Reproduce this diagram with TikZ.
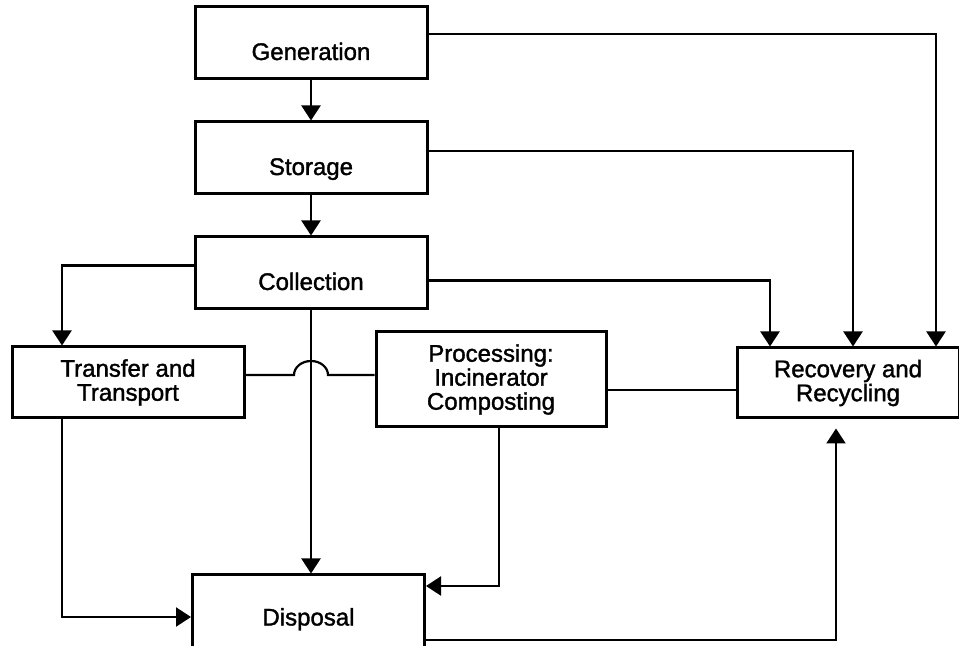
\documentclass[tikz,border=0pt]{standalone}
\usepackage{fontspec}
\setmainfont[FakeBold=1.5]{Liberation Sans}
\usetikzlibrary{positioning, calc, arrows.meta}

\begin{document}
\begin{tikzpicture}[
    , x = 0.5pt
    , y = -0.5pt
    , line width = 1.1pt
    , font = {\fontsize{12}{12}\selectfont}
    , n/.style = {
      , draw
      , line width = 1.5pt
      , minimum width = 116pt
      , minimum height = 36pt
      , inner sep = 0pt
      , align = center
    }
    , low/.style = {text height = 17pt, text depth = 0pt}
    , arr/.style = {-{Triangle[length = 7.5pt, width = 9.5pt]}}
    , node distance = 20pt
  ]
    \useasboundingbox (0, 0) rectangle (959, 646);
    \node (gen) [n, low] at (311, 43) {Generation};
    \node (sto) [n, low, below = of gen] {Storage};
    \node (col) [n, low, below = of sto] {Collection};
    \node (tra) [n, minimum height = 35.5pt] at (128, 382.5) {Transfer and\\Transport};
    \node (pro) [n, minimum width = 115pt, minimum height = 47.5pt] at (491, 379.5) {Processing:\\Incinerator\\Composting};
    \node (rec) [n, minimum width = 111pt, minimum height = 35pt] at (848, 383) {Recovery and\\Recycling};
    \node (dis) [n, minimum height = 37.5pt, text height = 13pt, text depth = 0pt] at (308.5, 612.5) {Disposal};
    \draw [arr] (gen) -- (sto);
    \draw [arr] (sto) -- (col);
    \draw [arr] ([yshift = 4.5pt] gen.east) -| ([xshift = 44pt] rec.north);
    \draw [arr] ([yshift = 3.5pt] sto.east) -| ([xshift = 2.5pt] rec.north);
    \draw [arr] ([yshift = -3.75pt] col.east) -| ([xshift = -39pt] rec.north);
    \draw [arr] ([yshift = 3.75pt] col.west) -| ([xshift = -33pt] tra.north);
    \draw [arr] (col.south) -- (col.south |- dis.north);
    % hop over the collection line
    \coordinate (hop) at ($(col.south |- tra.east) + (0, 3.75pt)$);
    \draw (hop -| tra.east) -- ([xshift = -8.5pt] hop)
      arc [start angle = 180, end angle = 0, x radius = 8.5pt, y radius = 7pt]
      -- (hop -| pro.west);
    \draw ([yshift = -5.25pt] pro.east) -- ($(pro.east -| rec.west) + (0, -5.25pt)$);
    \draw [arr] ([xshift = 4pt] pro.south) |- ([yshift = 13.25pt] dis.east);
    \draw [arr] ([xshift = -33pt] tra.south) |- ([yshift = -2.25pt] dis.west);
    \draw [arr] ([yshift = -13.75pt] dis.east) -| ([xshift = -6pt, yshift = -4.5pt] rec.south);
  \end{tikzpicture}
\end{document}
